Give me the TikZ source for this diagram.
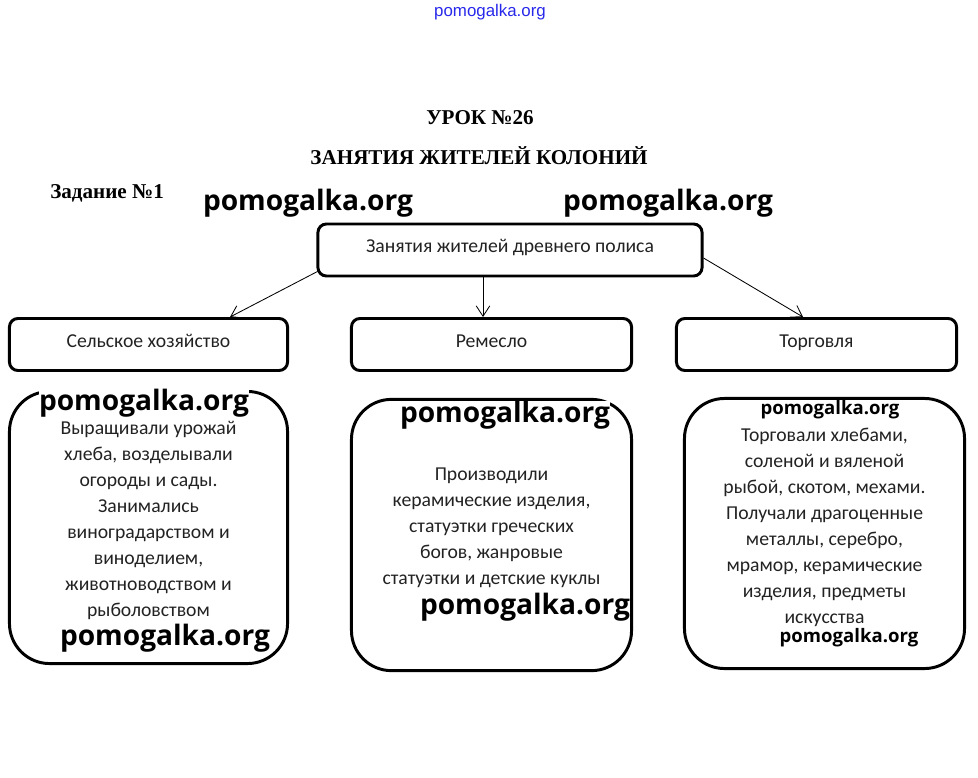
\documentclass[tikz,border=0pt]{standalone}
\usepackage{fontspec}
\setmainfont{Carlito}
\newfontfamily\wmfont{Open Sans}
\newfontfamily\headfont{Liberation Serif}
\newfontfamily\linkfont{Liberation Sans}
\usetikzlibrary{calc,arrows.meta,positioning}
\definecolor{ink}{RGB}{34,34,34}
\definecolor{linkblue}{RGB}{40,40,235}

\begin{document}
\begin{tikzpicture}[x=0.025cm,y=-0.025cm,
        head/.style={font=\headfont\bfseries\fontsize{15}{18}\selectfont,inner sep=0pt},
        wmark/.style={font=\wmfont\bfseries\fontsize{20}{24}\selectfont,inner sep=0pt},
        wsmall/.style={font=\wmfont\bfseries\fontsize{13.2}{16}\selectfont,inner sep=0pt},
        topic/.style={draw,line width=2.1pt,rounded corners=6pt,minimum width=6.95cm,
          minimum height=1.3cm,text height=0.7em,text depth=0.3em,
          font=\fontsize{14}{18}\selectfont,text=ink},
        detail/.style={draw,line width=2.1pt,rounded corners=1cm,minimum width=6.95cm},
        lines/.style={align=center,font=\fontsize{14}{18.5}\selectfont,text=ink},
        link/.style={-{Straight Barb[length=2.6mm,width=3.4mm]},line width=0.6pt}]
      \useasboundingbox (0,0) rectangle (978,777);
      % headings
      \node[font=\linkfont\fontsize{12}{14}\selectfont,text=linkblue] (site) at (490,12) {pomogalka.org};
      \node[head] (lesson) at (480,118) {УРОК №26};
      \node[head] (title) at (479,156) {ЗАНЯТИЯ ЖИТЕЛЕЙ КОЛОНИЙ};
      \node[head,anchor=west] (task) at (50,193) {Задание №1};
      \node[wmark] (wa) at (308,203) {pomogalka.org};
      \node[wmark] (wb) at (668,203) {pomogalka.org};
      % scheme
      \node[topic,minimum width=9.6cm] (top) at (510,250) {Занятия жителей древнего полиса};
      \node[topic] (agri) at (148.5,344.5) {Сельское хозяйство};
      \node[topic,minimum width=7cm] (craft) at (491.5,344.5) {Ремесло};
      \node[topic,minimum width=7cm] (trade) at (816.5,344.5) {Торговля};
      \draw[link] ($(top.south west)+(1,-6)$) -- ($(agri.north)+(81.5,0)$);
      \draw[link] ($(top.south)+(-27,0)$) -- ($(craft.north)+(-8.5,0)$);
      \draw[link] ($(top.east)+(0,8)$) -- ($(trade.north)+(-13.5,0)$);
      \node[detail,minimum height=6.8cm] (agrbox) at (148.5,527.5) {};
      \node[detail,minimum width=7cm,minimum height=6.78cm] (craftbox) at (491.5,535) {};
      \node[detail,minimum width=7cm,minimum height=6.75cm] (tradebox) at (824.5,533.5) {};
      \node[lines] (agrtxt) at ($(agrbox.center)+(0,-7)$)
        {Выращивали урожай\\хлеба, возделывали\\огороды и сады.\\Занимались\\виноградарством и\\виноделием,\\животноводством и\\рыболовством};
      \node[lines] (crafttxt) at ($(craftbox.center)+(0,-7)$)
        {Производили\\керамические изделия,\\статуэтки греческих\\богов, жанровые\\статуэтки и детские куклы};
      \node[lines] (tradetxt) at ($(tradebox.center)+(0,-6)$)
        {Торговали хлебами,\\соленой и вяленой\\рыбой, скотом, мехами.\\Получали драгоценные\\металлы, серебро,\\мрамор, керамические\\изделия, предметы\\искусства};
      % watermarks over the boxes
      \node[wmark,fill=white] (wc) at (144,403) {pomogalka.org};
      \node[wmark] (wd) at (165,638) {pomogalka.org};
      \node[wmark,fill=white] (we) at (505,415) {pomogalka.org};
      \node[wmark] (wf) at (525,607) {pomogalka.org};
      \node[wsmall] (wg) at (830,410) {pomogalka.org};
      \node[wsmall] (wh) at (849,638) {pomogalka.org};
    \end{tikzpicture}
\end{document}
